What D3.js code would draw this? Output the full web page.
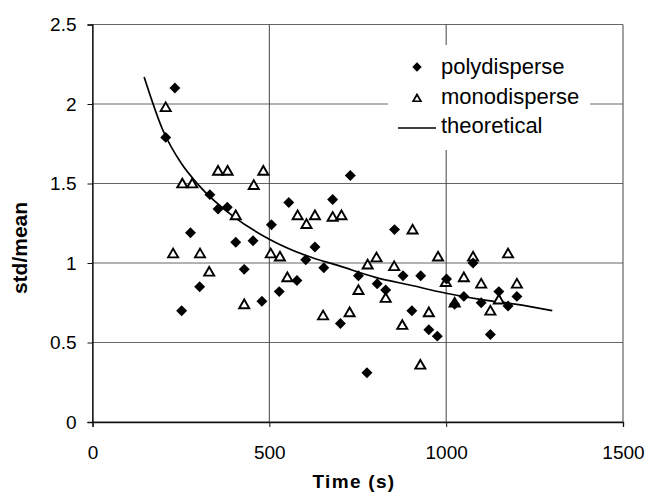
<!DOCTYPE html>
<html>
<head>
<meta charset="utf-8">
<script src="https://cdn.jsdelivr.net/npm/d3@7"></script>
<style>
  body { margin: 0; background: #fff; }
  text { font-family: Arial, "Liberation Sans", sans-serif; fill: #000; }
</style>
</head>
<body>
<div id="chart"></div>
<script>
//****** data ******//
var polyTime = [207, 233, 252, 277, 303, 332, 355, 381, 405, 429, 454, 479, 506, 528, 555, 578, 603, 629, 654, 679, 701,
                729, 752, 776, 805, 829, 854, 878, 903, 928, 951, 975, 1001, 1024, 1050, 1076, 1099, 1125, 1149, 1175, 1200];
var polyRatio = [1.79, 2.10, 0.70, 1.19, 0.85, 1.43, 1.34, 1.35, 1.13, 0.96, 1.14, 0.76, 1.24, 0.82, 1.38, 0.89, 1.02, 1.10, 0.97, 1.40, 0.62,
                 1.55, 0.92, 0.31, 0.87, 0.83, 1.21, 0.92, 0.70, 0.92, 0.58, 0.54, 0.90, 0.74, 0.79, 1.00, 0.75, 0.55, 0.82, 0.73, 0.79];

var monoTime = [207, 228, 254, 282, 304, 330, 355, 382, 405, 429, 456, 483, 504, 530, 551, 580, 605, 629, 652, 679, 704,
                727, 752, 778, 803, 829, 853, 876, 905, 927, 951, 977, 999, 1024, 1050, 1076, 1099, 1125, 1149, 1175, 1200];
var monoRatio = [1.98, 1.06, 1.50, 1.50, 1.06, 0.945, 1.58, 1.58, 1.30, 0.74, 1.49, 1.58, 1.06, 1.04, 0.91, 1.30, 1.245, 1.30, 0.67, 1.29, 1.30,
                 0.69, 0.83, 0.99, 1.035, 0.78, 0.98, 0.61, 1.21, 0.36, 0.69, 1.04, 0.88, 0.75, 0.91, 1.04, 0.87, 0.70, 0.77, 1.06, 0.87];

// theoretical curve, points
var theoTime  = [146, 200, 250, 300, 400, 500, 600, 700, 800, 900, 1000, 1100, 1200, 1300];
var theoRatio = [2.17, 1.83, 1.63, 1.49, 1.29, 1.15, 1.05, 0.98, 0.91, 0.86, 0.81, 0.77, 0.74, 0.70];

var xTicks = [0, 500, 1000, 1500];
var yTicks = [0, 0.5, 1, 1.5, 2, 2.5];
var legendLabels = ["polydisperse", "monodisperse", "theoretical"];

//****** layout ******//
var width = 651, height = 495;
var plot = {left: 92.5, right: 623, top: 24.5, bottom: 422};

var svg = d3.select('#chart').append('svg')
    .attr('width', width)
    .attr('height', height);

svg.append('rect').attr('width', width).attr('height', height).attr('fill', '#fff');

var x = d3.scaleLinear().domain([0, 1500]).range([plot.left, plot.right]);
var y = d3.scaleLinear().domain([0, 2.5]).range([plot.bottom, plot.top]);

//grid lines
var grid = svg.append('g');
grid.selectAll('.hgrid').data(yTicks).enter().append('line')
    .attr('x1', plot.left).attr('x2', plot.right)
    .attr('y1', function(d) { return y(d); }).attr('y2', function(d) { return y(d); })
    .attr('stroke', '#666').attr('stroke-width', 1);
grid.selectAll('.vgrid').data(xTicks).enter().append('line')
    .attr('y1', plot.top).attr('y2', plot.bottom)
    .attr('x1', function(d) { return x(d); }).attr('x2', function(d) { return x(d); })
    .attr('stroke', '#444').attr('stroke-width', 1);

//axes
var yAxis = d3.axisLeft(y).tickValues(yTicks).tickSize(5).tickPadding(11).tickFormat(function(d) { return String(d); });
var xAxis = d3.axisBottom(x).tickValues(xTicks).tickSize(5).tickPadding(19).tickFormat(function(d) { return String(d); });

var gy = svg.append('g').attr('transform', 'translate(' + plot.left + ',0)').call(yAxis);
var gx = svg.append('g').attr('transform', 'translate(0,' + plot.bottom + ')').call(xAxis);
[gx, gy].forEach(function(g) {
  g.select('.domain').attr('stroke', '#111').attr('stroke-width', 1.3);
  g.selectAll('.tick line').attr('stroke', '#111');
  g.selectAll('.tick text').style('font-size', '19px').style('font-family', 'Arial, "Liberation Sans", sans-serif');
});

//axis titles
svg.append('text')
    .attr('x', 354).attr('y', 488)
    .attr('text-anchor', 'middle')
    .style('font-size', '19px').style('font-weight', 'bold').style('letter-spacing', '1.3px')
    .text('Time (s)');
svg.append('text')
    .attr('transform', 'translate(27,248) rotate(-90)')
    .attr('text-anchor', 'middle')
    .style('font-size', '21px').style('font-weight', 'bold')
    .text('std/mean');

//legend background (hides grid behind it)
svg.append('rect')
    .attr('x', 388).attr('y', 45).attr('width', 202).attr('height', 105)
    .attr('fill', '#fff');

//theoretical curve
var line = d3.line()
    .x(function(d) { return x(d[0]); })
    .y(function(d) { return y(d[1]); })
    .curve(d3.curveMonotoneX);
svg.append('path')
    .datum(d3.zip(theoTime, theoRatio))
    .attr('d', line)
    .attr('fill', 'none').attr('stroke', '#000').attr('stroke-width', 1.7);

//markers
var diamond = d3.symbol().type(d3.symbolSquare).size(60);
var triangle = d3.symbol().type(d3.symbolTriangle).size(44);

svg.append('g').selectAll('path')
    .data(d3.zip(monoTime, monoRatio)).enter().append('path')
    .attr('d', triangle)
    .attr('transform', function(d) { return 'translate(' + x(d[0]) + ',' + (y(d[1]) + 1) + ')'; })
    .attr('fill', '#fff').attr('stroke', '#000').attr('stroke-width', 1.9);

svg.append('g').selectAll('path')
    .data(d3.zip(polyTime, polyRatio)).enter().append('path')
    .attr('d', diamond)
    .attr('transform', function(d) { return 'translate(' + x(d[0]) + ',' + y(d[1]) + ') rotate(45)'; })
    .attr('fill', '#000');

//legend
var leg = svg.append('g');
leg.append('path').attr('d', d3.symbol().type(d3.symbolSquare).size(44))
    .attr('transform', 'translate(417,67) rotate(45)').attr('fill', '#000');
leg.append('path').attr('d', d3.symbol().type(d3.symbolTriangle).size(26))
    .attr('transform', 'translate(417,99)').attr('fill', '#fff').attr('stroke', '#000').attr('stroke-width', 1.7);
leg.append('line').attr('x1', 398).attr('x2', 436).attr('y1', 128).attr('y2', 128)
    .attr('stroke', '#000').attr('stroke-width', 1.6);
leg.selectAll('text').data(legendLabels).enter().append('text')
    .attr('x', 441)
    .attr('y', function(d, i) { return 74 + i * 29.5; })
    .style('font-size', '22px')
    .text(function(d) { return d; });
</script>
</body>
</html>
